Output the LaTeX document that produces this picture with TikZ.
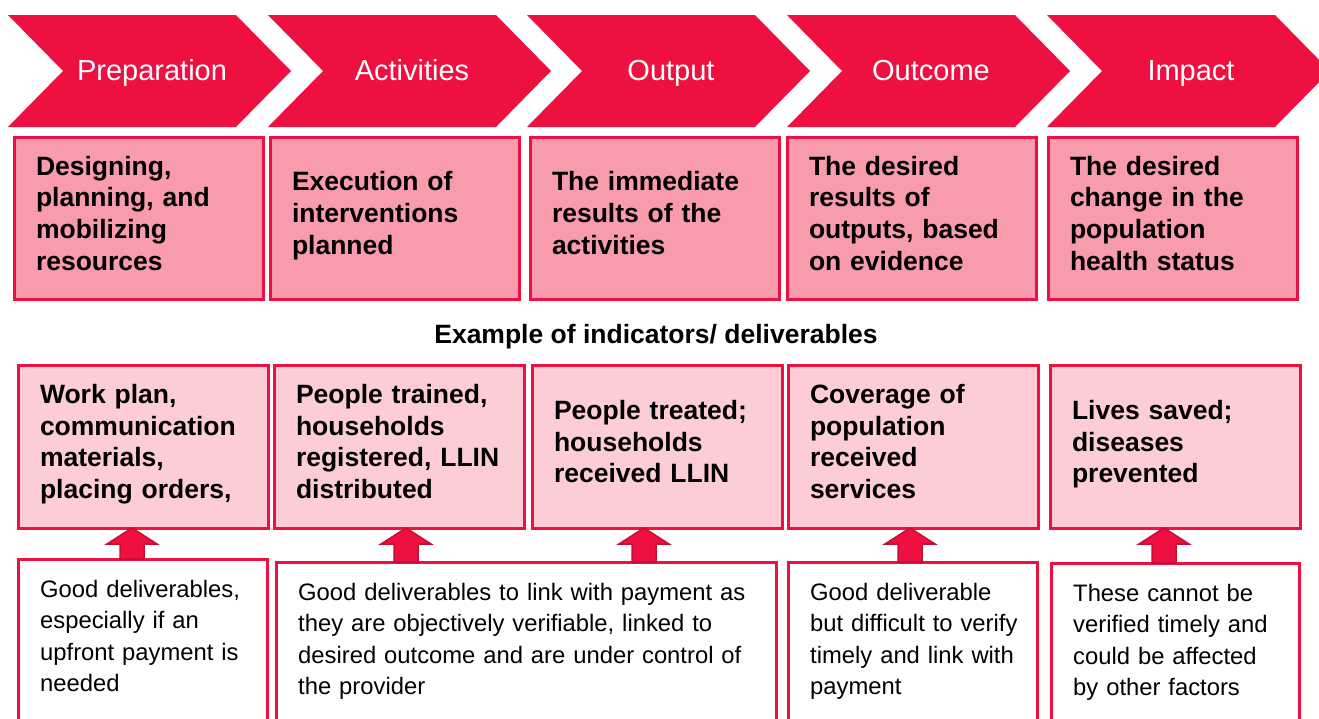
\documentclass[tikz,border=0pt]{standalone}
\usepackage{fontspec}
\setmainfont{Liberation Sans}
\definecolor{chevred}{RGB}{238,16,64}
\definecolor{stagepink}{RGB}{248,155,172}
\definecolor{indpink}{RGB}{253,205,214}
\definecolor{arrowedge}{RGB}{196,14,52}

\begin{document}
\begin{tikzpicture}[x=1pt,y=-1pt,
  phase/.style={text=white,font=\fontsize{29}{35}\selectfont,anchor=base},
  stagebox/.style={draw=chevred,fill=stagepink,line width=3pt,outer sep=0pt,anchor=north west,minimum width=249pt,minimum height=162pt,text width=205pt,inner xsep=22pt,align=left,font=\fontsize{26.5}{31.7}\selectfont\bfseries,execute at end node={\rule[-10pt]{0pt}{0pt}}},
  indbox/.style={stagebox,fill=indpink,minimum width=250pt,minimum height=163pt,text width=206pt},
  notebox/.style={draw=chevred,fill=white,line width=3pt,outer sep=0pt,anchor=north west,minimum height=175pt},
  notetext/.style={anchor=north west,inner sep=0pt,align=left,font=\fontsize{23.8}{31.3}\selectfont},
  uparrow/.style={fill=chevred,draw=arrowedge,line width=1.5pt,line join=miter}]
\useasboundingbox (0,0) rectangle (1319,718);
\fill[chevred] (8,15) -- ++(228,0) -- ++(55,56) -- ++(-55,56) -- ++(-228,0) -- ++(55,-56) -- cycle;
\fill[chevred] (268,15) -- ++(228,0) -- ++(55,56) -- ++(-55,56) -- ++(-228,0) -- ++(55,-56) -- cycle;
\fill[chevred] (527,15) -- ++(228,0) -- ++(55,56) -- ++(-55,56) -- ++(-228,0) -- ++(55,-56) -- cycle;
\fill[chevred] (787,15) -- ++(228,0) -- ++(55,56) -- ++(-55,56) -- ++(-228,0) -- ++(55,-56) -- cycle;
\fill[chevred] (1047,15) -- ++(228,0) -- ++(55,56) -- ++(-55,56) -- ++(-228,0) -- ++(55,-56) -- cycle;
\node[phase] (c1) at (152,80) {Preparation};
\node[phase] (c2) at (412,80) {Activities};
\node[phase] (c3) at (671,80) {Output};
\node[phase] (c4) at (931,80) {Outcome};
\node[phase] (c5) at (1191,80) {Impact};
\node[stagebox] (s1) at (14,137) {Designing,\\planning, and\\mobilizing\\resources};
\node[stagebox] (s2) at (270,137) {Execution of\\interventions\\planned};
\node[stagebox] (s3) at (530,137) {The immediate\\results of the\\activities};
\node[stagebox] (s4) at (787,137) {The desired\\results of\\outputs, based\\on evidence};
\node[stagebox] (s5) at (1048,137) {The desired\\change in the\\population\\health status};
\node[font=\fontsize{26.5}{32}\selectfont\bfseries,anchor=base] (ex) at (656,343) {Example of indicators/ deliverables};
\node[indbox] (d1) at (18,365) {Work plan,\\communication\\materials,\\placing orders,};
\node[indbox] (d2) at (274,365) {People trained,\\households\\registered, LLIN\\distributed};
\node[indbox] (d3) at (532,365) {People treated;\\households\\received LLIN};
\node[indbox] (d4) at (788,365) {Coverage of\\population\\received\\services};
\node[indbox] (d5) at (1050,365) {Lives saved;\\diseases\\prevented};
\node[notebox,minimum width=249pt] (n1) at (18,559) {};
\node[notebox,minimum width=500pt] (n2) at (276,562) {};
\node[notebox,minimum width=249pt] (n3) at (788,562) {};
\node[notebox,minimum width=248pt] (n4) at (1051,563) {};
\node[notetext,text width=225pt] (g1) at ([shift={(22,21)}]n1.north west) {Good deliverables,\\especially if an\\upfront payment is\\needed};
\node[notetext,text width=470pt] (g2) at ([shift={(22,21)}]n2.north west) {Good deliverables to link with payment as\\they are objectively verifiable, linked to\\desired outcome and are under control of\\the provider};
\node[notetext,text width=225pt] (g3) at ([shift={(22,21)}]n3.north west) {Good deliverable\\but difficult to verify\\timely and link with\\payment};
\node[notetext,text width=225pt] (g4) at ([shift={(22,21)}]n4.north west) {These cannot be\\verified timely and\\could be affected\\by other factors};
\draw[uparrow] (n1.north -| 120,0) -- (n1.north -| 144,0) -- (144,544) -- (157,544) -- (d1.south -| 132,0) -- (107,544) -- (120,544) -- cycle;
\draw[uparrow] (n2.north -| 394,0) -- (n2.north -| 418,0) -- (418,544) -- (431,544) -- (d2.south -| 406,0) -- (381,544) -- (394,544) -- cycle;
\draw[uparrow] (n2.north -| 632,0) -- (n2.north -| 656,0) -- (656,544) -- (669,544) -- (d3.south -| 644,0) -- (619,544) -- (632,544) -- cycle;
\draw[uparrow] (n3.north -| 898,0) -- (n3.north -| 922,0) -- (922,544) -- (935,544) -- (d4.south -| 910,0) -- (885,544) -- (898,544) -- cycle;
\draw[uparrow] (n4.north -| 1152,0) -- (n4.north -| 1176,0) -- (1176,544) -- (1189,544) -- (d5.south -| 1164,0) -- (1139,544) -- (1152,544) -- cycle;
\end{tikzpicture}
\end{document}
